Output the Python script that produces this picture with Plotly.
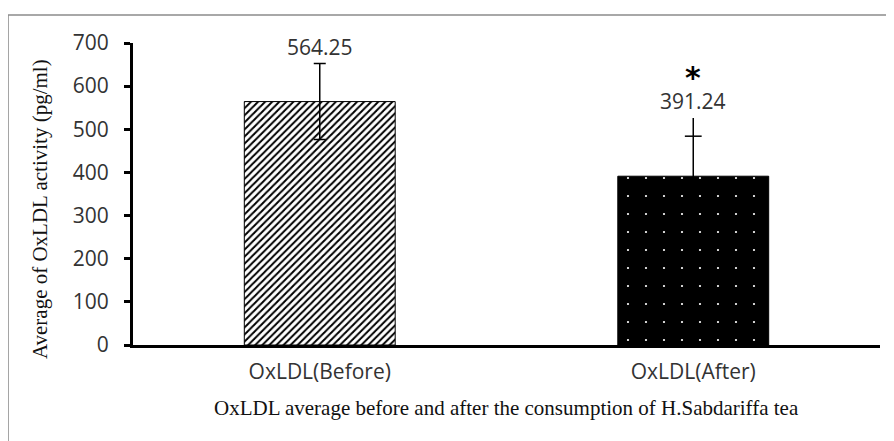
import plotly.graph_objects as go

categories = ["OxLDL(Before)", "OxLDL(After)"]
means = [564.25, 391.24]
errors = [88, 135]
value_labels = ["564.25", "391.24"]
cross_tick_value = [484]
significance = ["", "*"]
x_title = "OxLDL average before and after the consumption of H.Sabdariffa tea"
y_title = "Average of OxLDL activity (pg/ml)"

SANS = "Open Sans, Noto Sans"
SERIF = "Liberation Serif"

fig = go.Figure()

# Before: white with diagonal hatch
fig.add_trace(go.Bar(
    x=[categories[0]], y=[means[0]],
    marker=dict(
        color="white",
        line=dict(color="black", width=1),
        pattern=dict(shape="/", fgcolor="black", bgcolor="white",
                     size=5, solidity=0.4, fillmode="replace"),
    ),
    error_y=dict(type="data", array=[errors[0]], visible=True, color="black",
                 thickness=1.5, width=6),
    width=0.404, showlegend=False, hoverinfo="skip",
))

# After: black with white dots
fig.add_trace(go.Bar(
    x=[categories[1]], y=[means[1]],
    marker=dict(
        color="black",
        line=dict(color="black", width=1),
        pattern=dict(shape=".", fgcolor="white", bgcolor="black",
                     size=18, solidity=0.012, fillmode="replace"),
    ),
    error_y=dict(type="data", array=[errors[1]], visible=True, color="black",
                 thickness=1.5, width=0),
    width=0.404, showlegend=False, hoverinfo="skip",
))

# small cross tick on the second error bar
fig.add_trace(go.Scatter(
    x=[categories[1]], y=cross_tick_value, mode="markers",
    marker=dict(symbol="line-ew", size=12, line=dict(color="black", width=1.5)),
    showlegend=False, hoverinfo="skip",
))

for c, m, e, lab, sig in zip(categories, means, errors, value_labels, significance):
    fig.add_annotation(x=c, y=m + e, text=lab, showarrow=False, yanchor="middle",
                       yshift=17, font=dict(family=SANS, size=21, color="#333"))
    if sig:
        fig.add_annotation(x=c, y=m + e, text="<b>" + sig + "</b>", showarrow=False,
                           yanchor="middle", yshift=40,
                           font=dict(family="DejaVu Sans", size=30, color="black"))

# axis titles
fig.add_annotation(xref="paper", yref="paper", x=0.5, y=-0.2086, text=x_title,
                   showarrow=False, xanchor="center", yanchor="middle",
                   font=dict(family=SERIF, size=21, color="#111"))
fig.add_annotation(xref="paper", yref="paper", x=-0.1245, y=0.45, text=y_title,
                   textangle=-90, showarrow=False, xanchor="center", yanchor="middle",
                   font=dict(family=SERIF, size=21, color="#111"))

# outer chart border
fig.add_shape(type="rect", xref="paper", yref="paper",
              x0=-0.1673, y0=-0.36, x1=1.04, y1=1.0927,
              line=dict(color="#8c8c8c", width=1.5), fillcolor="rgba(0,0,0,0)", layer="below")

fig.update_layout(
    width=894, height=441,
    margin=dict(l=125, r=22, t=35, b=104, autoexpand=False),
    paper_bgcolor="white", plot_bgcolor="white",
    font=dict(family=SANS, size=21, color="#333"),
    barmode="overlay",
)
fig.update_xaxes(
    showline=True, linecolor="black", linewidth=3, ticks="",
    ticklabelstandoff=6,
    tickfont=dict(family=SANS, size=21, color="#333"),
    showgrid=False, automargin=False,
)
fig.update_yaxes(
    range=[0, 700], dtick=100, showline=True, linecolor="black", linewidth=3,
    ticks="outside", ticklen=6, tickwidth=3, tickcolor="black",
    ticklabelstandoff=11,
    tickfont=dict(family=SANS, size=21, color="#333"),
    showgrid=False, zeroline=False, automargin=False,
)

fig.write_html("out.html")
